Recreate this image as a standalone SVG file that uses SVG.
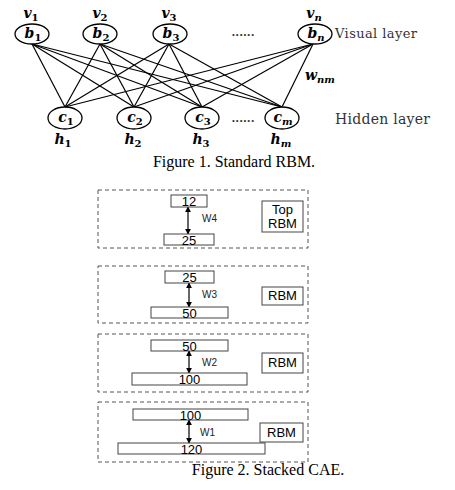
<svg xmlns="http://www.w3.org/2000/svg" width="455" height="490" viewBox="0 0 455 490">
<defs>
<marker id="ah" viewBox="0 0 8 8" refX="7" refY="4" markerWidth="6" markerHeight="6" orient="auto-start-reverse" markerUnits="userSpaceOnUse">
<path d="M0,0 L8,4 L0,8 z" fill="#000"/>
</marker>
<style>
.n{fill:#fff;stroke:#000;stroke-width:1.3}
.m{font-family:"DejaVu Serif",serif;font-weight:bold;font-style:italic;font-size:14px;fill:#000}
.s{font-size:10px;font-style:normal}
.si{font-size:10px}
.lay{font-family:"DejaVu Serif",serif;fill:#333}
.cap{font-family:"Liberation Serif",serif;font-size:16px;fill:#000}
.dash{fill:none;stroke:#555;stroke-width:1;stroke-dasharray:4,3}
.r{fill:#fff;stroke:#444;stroke-width:1}
.t{font-family:"Liberation Sans",sans-serif;font-size:13px;fill:#000;text-anchor:middle}
.w{font-family:"Liberation Sans",sans-serif;font-size:10px;fill:#222}
.e{stroke:#000;stroke-width:1.2}
</style>
</defs>
<g id="connectors">
<g class="e">
<line x1="32" y1="44" x2="65" y2="107"/><line x1="32" y1="44" x2="134" y2="107"/><line x1="32" y1="44" x2="202" y2="107"/><line x1="32" y1="44" x2="282" y2="107"/>
<line x1="100" y1="44" x2="65" y2="107"/><line x1="100" y1="44" x2="134" y2="107"/><line x1="100" y1="44" x2="202" y2="107"/><line x1="100" y1="44" x2="282" y2="107"/>
<line x1="169" y1="44" x2="65" y2="107"/><line x1="169" y1="44" x2="134" y2="107"/><line x1="169" y1="44" x2="202" y2="107"/><line x1="169" y1="44" x2="282" y2="107"/>
<line x1="313" y1="44" x2="65" y2="107"/><line x1="313" y1="44" x2="134" y2="107"/><line x1="313" y1="44" x2="202" y2="107"/><line x1="313" y1="44" x2="282" y2="107"/>
</g>
<g stroke="#000" stroke-width="1.2" fill="none">
<line x1="188" y1="207" x2="188" y2="234" marker-start="url(#ah)" marker-end="url(#ah)"/>
<line x1="189" y1="283" x2="189" y2="307" marker-start="url(#ah)" marker-end="url(#ah)"/>
<line x1="189" y1="351" x2="189" y2="373" marker-start="url(#ah)" marker-end="url(#ah)"/>
<line x1="189" y1="420" x2="189" y2="443" marker-start="url(#ah)" marker-end="url(#ah)"/>
</g>
<text class="w" x="202" y="222">W4</text>
<text class="w" x="202" y="298">W3</text>
<text class="w" x="202" y="366">W2</text>
<text class="w" x="200" y="436">W1</text>
<text class="m" x="305" y="80">w<tspan dy="3" class="si">nm</tspan></text>
</g>
<g id="v1"><text class="m" x="31" y="18" text-anchor="middle">v<tspan dy="3" class="s">1</tspan></text><ellipse class="n" cx="32" cy="34" rx="17" ry="10"/><text class="m" x="33" y="38" text-anchor="middle">b<tspan dy="3" class="s">1</tspan></text></g>
<g id="v2"><text class="m" x="100" y="18" text-anchor="middle">v<tspan dy="3" class="s">2</tspan></text><ellipse class="n" cx="100" cy="34" rx="17" ry="10"/><text class="m" x="101" y="38" text-anchor="middle">b<tspan dy="3" class="s">2</tspan></text></g>
<g id="v3"><text class="m" x="169" y="18" text-anchor="middle">v<tspan dy="3" class="s">3</tspan></text><ellipse class="n" cx="170" cy="34" rx="17" ry="10"/><text class="m" x="171" y="38" text-anchor="middle">b<tspan dy="3" class="s">3</tspan></text></g>
<g id="vdots"><text class="lay" x="243" y="36" text-anchor="middle" font-size="11" font-weight="bold">......</text></g>
<g id="vn"><text class="m" x="314" y="18" text-anchor="middle">v<tspan dy="3" class="si">n</tspan></text><ellipse class="n" cx="315" cy="34" rx="17" ry="10"/><text class="m" x="316" y="38" text-anchor="middle">b<tspan dy="3" class="si">n</tspan></text></g>
<g id="visual-label"><text class="lay" x="335" y="38" font-size="13" textLength="82">Visual layer</text></g>
<g id="h1"><ellipse class="n" cx="65" cy="118" rx="17" ry="11"/><text class="m" x="66" y="122" text-anchor="middle">c<tspan dy="3" class="s">1</tspan></text><text class="m" x="63" y="144" text-anchor="middle">h<tspan dy="3" class="s">1</tspan></text></g>
<g id="h2"><ellipse class="n" cx="134" cy="118" rx="17" ry="11"/><text class="m" x="135" y="122" text-anchor="middle">c<tspan dy="3" class="s">2</tspan></text><text class="m" x="133" y="144" text-anchor="middle">h<tspan dy="3" class="s">2</tspan></text></g>
<g id="h3"><ellipse class="n" cx="202" cy="118" rx="17" ry="11"/><text class="m" x="203" y="122" text-anchor="middle">c<tspan dy="3" class="s">3</tspan></text><text class="m" x="201" y="144" text-anchor="middle">h<tspan dy="3" class="s">3</tspan></text></g>
<g id="hdots"><text class="lay" x="243" y="122" text-anchor="middle" font-size="11" font-weight="bold">......</text></g>
<g id="hm"><ellipse class="n" cx="282" cy="118" rx="17" ry="11"/><text class="m" x="283" y="122" text-anchor="middle">c<tspan dy="3" class="si">m</tspan></text><text class="m" x="281" y="144" text-anchor="middle">h<tspan dy="3" class="si">m</tspan></text></g>
<g id="hidden-label"><text class="lay" x="335" y="124" font-size="14" textLength="95">Hidden layer</text></g>
<g id="caption1"><text class="cap" x="234" y="167" text-anchor="middle">Figure 1. Standard RBM.</text></g>
<g id="top-rbm">
<rect class="dash" x="98" y="190" width="210" height="58"/>
<rect class="r" x="171" y="195" width="36" height="12"/><text class="t" x="189" y="206">12</text>
<rect class="r" x="164" y="234" width="50" height="11"/><text class="t" x="189" y="245">25</text>
<rect class="r" x="262" y="201" width="41" height="31"/><text class="t" x="282.5" y="214">Top</text><text class="t" x="282.5" y="228">RBM</text>
</g>
<g id="rbm3">
<rect class="dash" x="98" y="266" width="210" height="57"/>
<rect class="r" x="165" y="271" width="49" height="12"/><text class="t" x="189.5" y="282">25</text>
<rect class="r" x="151" y="307" width="77" height="11"/><text class="t" x="189.5" y="318">50</text>
<rect class="r" x="262" y="287" width="41" height="18"/><text class="t" x="282.5" y="300">RBM</text>
</g>
<g id="rbm2">
<rect class="dash" x="98" y="334" width="210" height="58"/>
<rect class="r" x="151" y="340" width="77" height="11"/><text class="t" x="189.5" y="351">50</text>
<rect class="r" x="132" y="373" width="115" height="12"/><text class="t" x="189.5" y="384">100</text>
<rect class="r" x="262" y="353" width="41" height="20"/><text class="t" x="282.5" y="367">RBM</text>
</g>
<g id="rbm1">
<rect class="dash" x="98" y="402" width="210" height="60"/>
<rect class="r" x="133" y="409" width="115" height="11"/><text class="t" x="190.5" y="420">100</text>
<rect class="r" x="118" y="443" width="147" height="11"/><text class="t" x="191.5" y="454">120</text>
<rect class="r" x="260" y="423" width="43" height="19"/><text class="t" x="281.5" y="437">RBM</text>
</g>
<g id="caption2"><text class="cap" x="268" y="475" text-anchor="middle">Figure 2.  Stacked CAE.</text></g>
</svg>
